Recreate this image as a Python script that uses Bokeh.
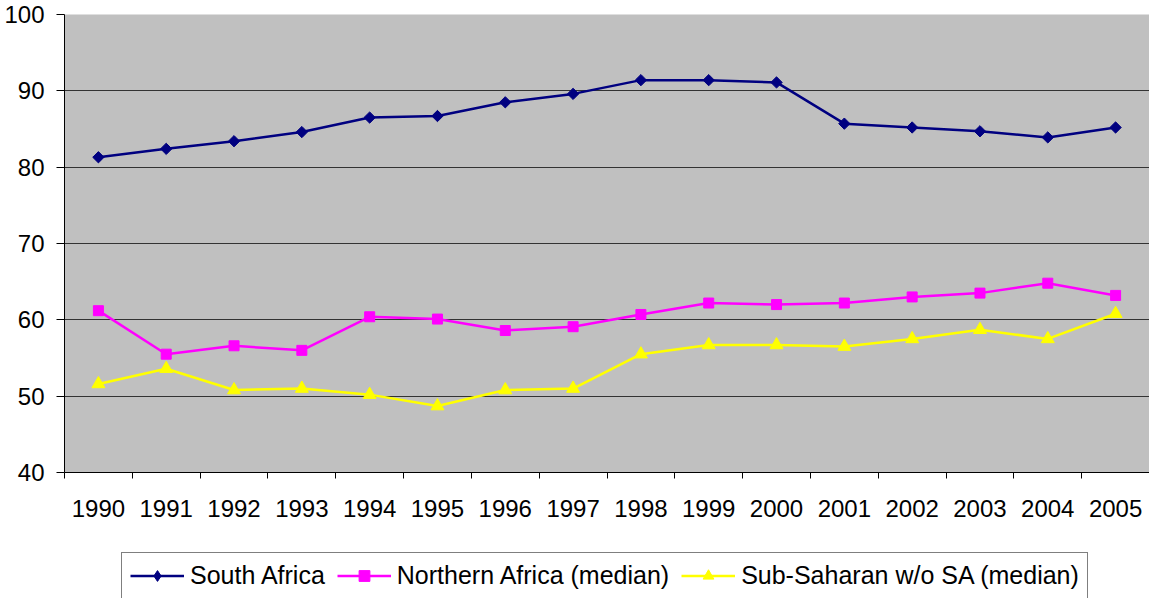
import numpy as np
from bokeh.plotting import figure
from bokeh.layouts import column
from bokeh.models import FixedTicker, Legend, LegendItem, Range1d
from bokeh.embed import file_html
from bokeh.resources import INLINE

years = ["1990", "1991", "1992", "1993", "1994", "1995", "1996", "1997",
         "1998", "1999", "2000", "2001", "2002", "2003", "2004", "2005"]
south_africa = [81.3, 82.4, 83.4, 84.6, 86.5, 86.7, 88.5, 89.6,
                91.4, 91.4, 91.1, 85.7, 85.2, 84.7, 83.9, 85.2]
northern_africa = [61.2, 55.5, 56.6, 56.0, 60.4, 60.1, 58.6, 59.1,
                   60.7, 62.2, 62.0, 62.2, 63.0, 63.5, 64.8, 63.2]
sub_saharan = [51.6, 53.6, 50.8, 51.0, 50.2, 48.7, 50.8, 51.0,
               55.5, 56.7, 56.7, 56.5, 57.5, 58.7, 57.5, 60.8]
series_names = ["South Africa", "Northern Africa (median)", "Sub-Saharan w/o SA (median)"]
y_ticks = [40, 50, 60, 70, 80, 90, 100]

x = [i + 0.5 for i in range(len(years))]
series = [south_africa, northern_africa, sub_saharan]
FONT = "Liberation Sans"

styles = [
    dict(color="#000080", marker="square", angle=np.pi / 4, size=8, legend_marker="diamond"),
    dict(color="#FF00FF", marker="square", angle=0.0, size=10, legend_marker="square"),
    dict(color="#FFFF00", marker="triangle", angle=0.0, size=13, legend_marker="triangle"),
]

p = figure(width=1149, height=552, x_range=Range1d(0, len(years)), y_range=Range1d(40, 100),
           output_backend="svg", toolbar_location=None,
           min_border_left=64, min_border_right=0, min_border_top=14, min_border_bottom=80)
p.background_fill_color = "#C0C0C0"
p.border_fill_color = "white"
p.outline_line_color = None

# y axis
p.yaxis.ticker = FixedTicker(ticks=y_ticks)
p.yaxis.major_tick_out = 8
p.yaxis.major_tick_in = 0
p.yaxis.minor_tick_out = 0
p.yaxis.minor_tick_in = 0
p.yaxis.major_label_standoff = 12
p.yaxis.axis_line_color = "black"
p.yaxis.major_tick_line_color = "black"
p.yaxis.major_label_text_font = FONT
p.yaxis.major_label_text_font_size = "24px"
p.yaxis.major_label_text_color = "black"

# x axis: labels at category centers, ticks at category boundaries
p.xaxis.ticker = FixedTicker(ticks=x, minor_ticks=list(range(len(years) + 1)))
p.xaxis.major_label_overrides = {xi: yr for xi, yr in zip(x, years)}
p.xaxis.major_tick_out = 0
p.xaxis.major_tick_in = 0
p.xaxis.minor_tick_out = 6
p.xaxis.minor_tick_in = 0
p.xaxis.minor_tick_line_color = "black"
p.xaxis.axis_line_color = "black"
p.xaxis.major_label_standoff = 21
p.xaxis.major_label_text_font = FONT
p.xaxis.major_label_text_font_size = "24px"
p.xaxis.major_label_text_color = "black"

p.xgrid.visible = False
p.ygrid.ticker = FixedTicker(ticks=y_ticks)
p.ygrid.grid_line_color = "#333333"
p.ygrid.grid_line_width = 1

for vals, st in zip(series, styles):
    p.line(x, vals, line_color=st["color"], line_width=2.5)
    p.scatter(x, vals, marker=st["marker"], angle=st["angle"], size=st["size"],
              fill_color=st["color"], line_color=st["color"], line_width=1)

# legend strip below the chart: same series and styles, data kept outside its view
lf = figure(width=1149, height=46, x_range=Range1d(0, 1), y_range=Range1d(0, 1),
            output_backend="svg", toolbar_location=None,
            x_axis_location=None, y_axis_location=None,
            min_border_left=0, min_border_right=0, min_border_top=0, min_border_bottom=0)
lf.outline_line_color = None
lf.grid.visible = False
lf.background_fill_color = "white"
lf.border_fill_color = "white"

items = []
for name, vals, st in zip(series_names, series, styles):
    rl = lf.line(x, vals, line_color=st["color"], line_width=2.5)
    rm = lf.scatter(x, vals, marker=st["legend_marker"], size=st["size"],
                    fill_color=st["color"], line_color=st["color"], line_width=1)
    items.append(LegendItem(label=name, renderers=[rl, rm]))

legend = Legend(items=items, orientation="horizontal", location=(57, -1),
                glyph_width=54, glyph_height=27, label_standoff=6, spacing=12,
                padding=8, margin=0,
                border_line_color="#000000", border_line_width=1,
                background_fill_color="white", background_fill_alpha=1,
                label_text_font=FONT, label_text_font_size="25px", label_text_color="black")
lf.add_layout(legend)

layout = column(p, lf, spacing=0)
open("out.html", "w").write(file_html(layout, INLINE))
